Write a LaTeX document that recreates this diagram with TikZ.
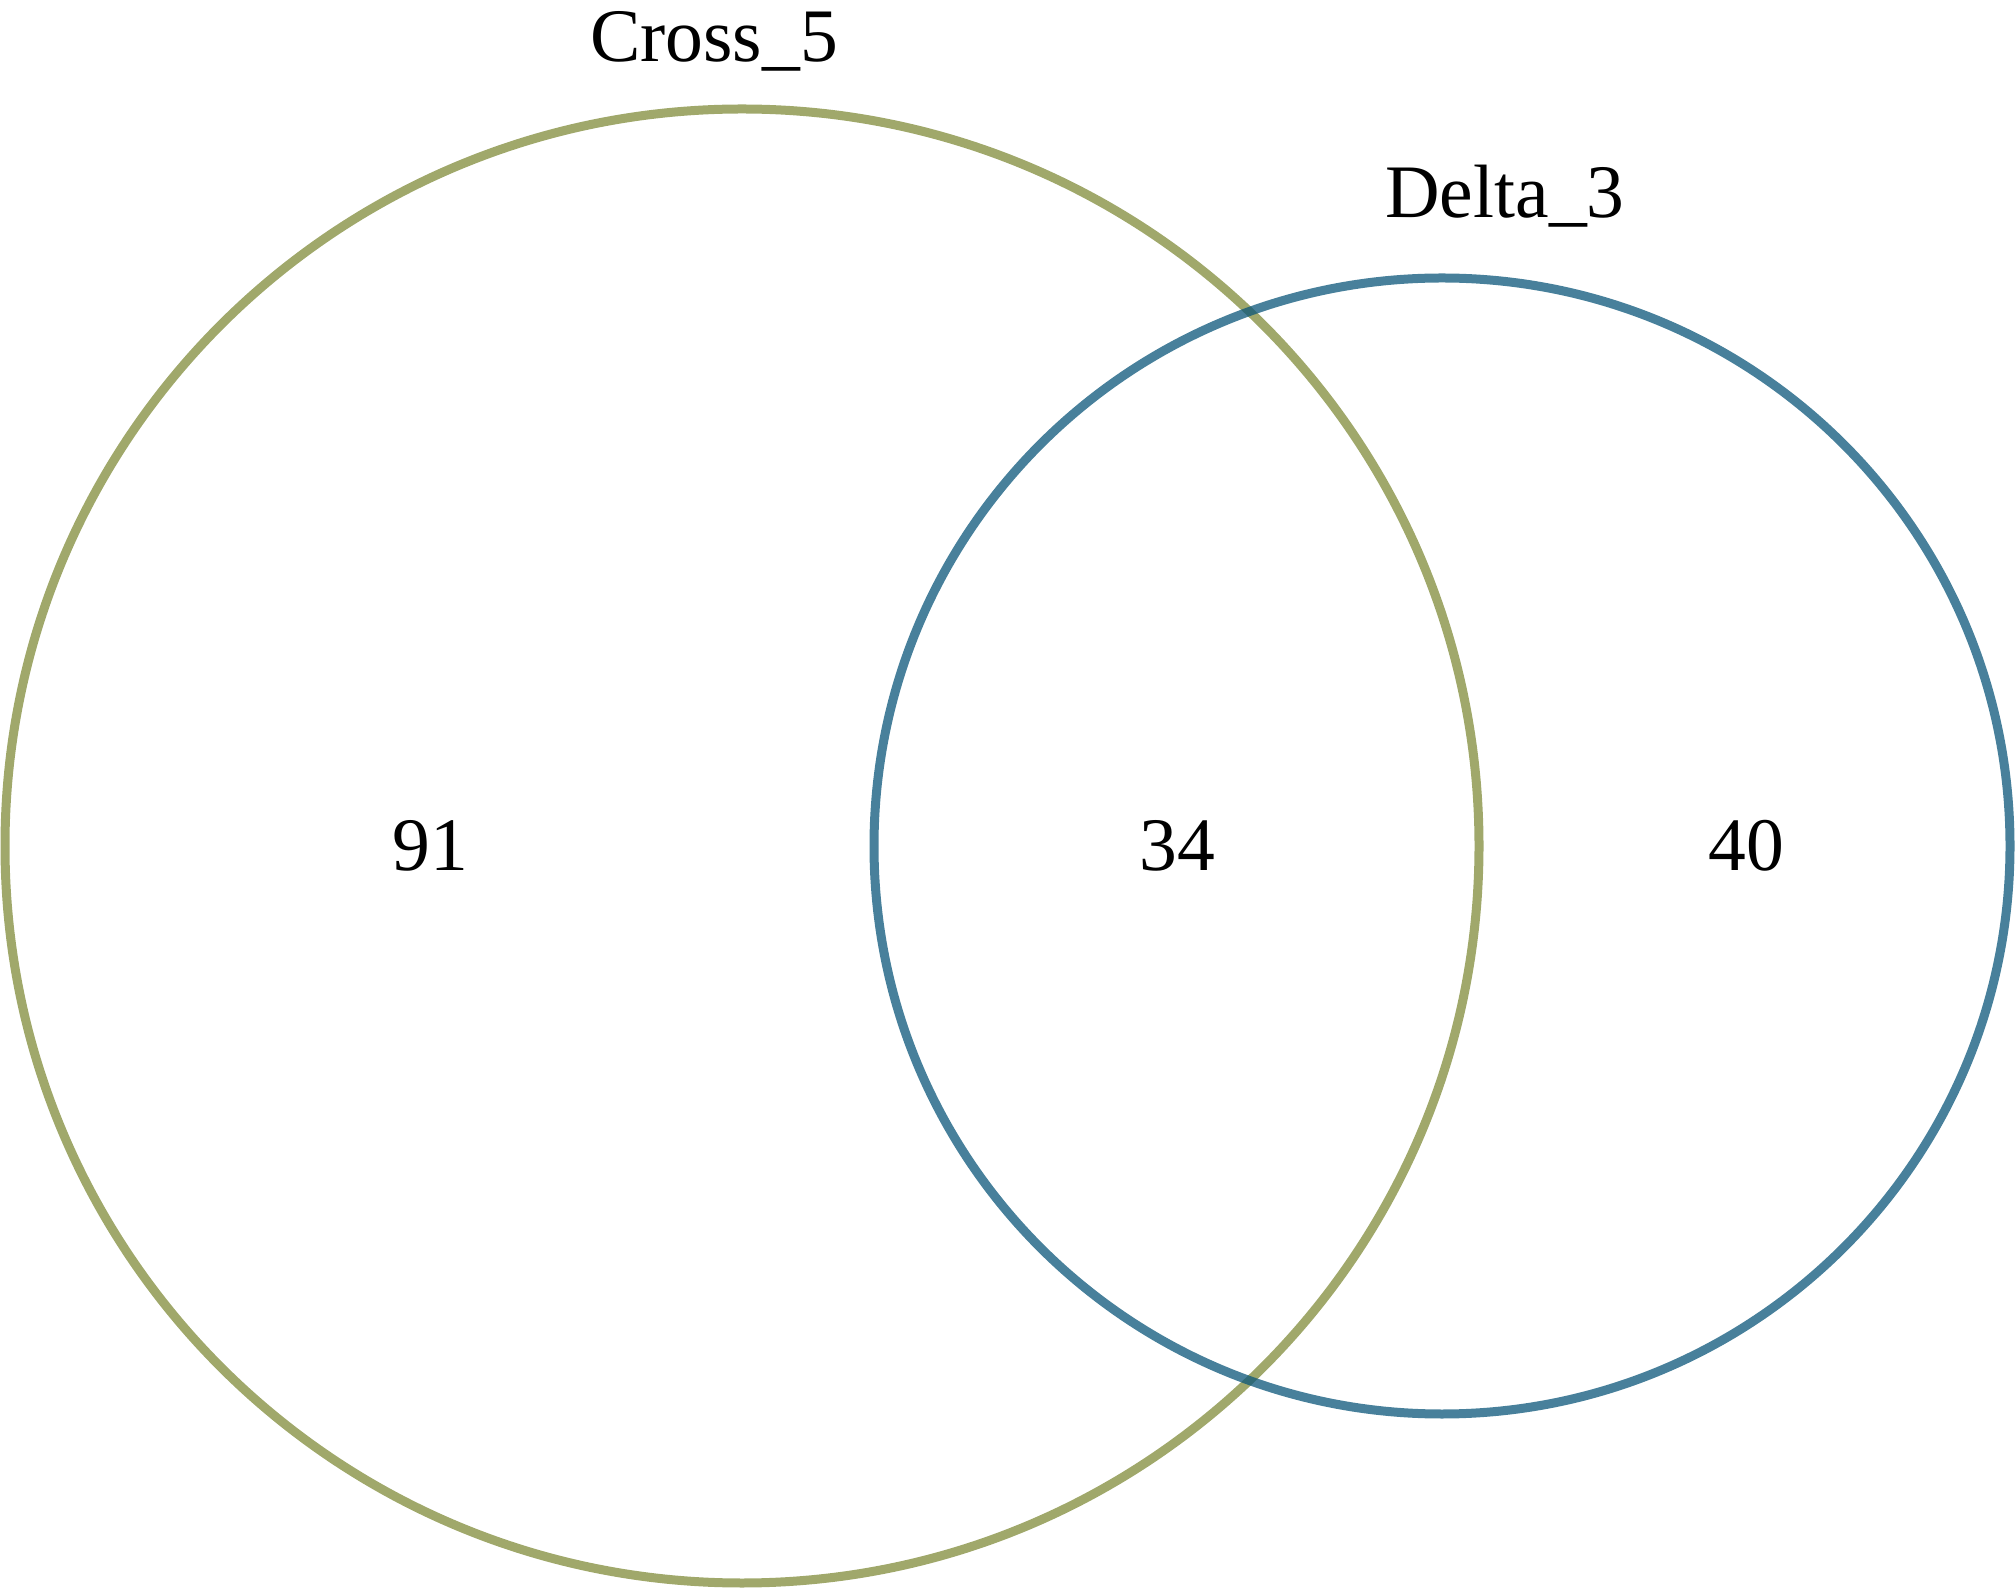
\documentclass[tikz,border=0pt]{standalone}
\usepackage{fontspec}
\setmainfont{Liberation Serif}
\usepackage{tikz}
\usetikzlibrary{calc}
\definecolor{crossolive}{RGB}{128,139,58}
\definecolor{deltablue}{RGB}{11,86,122}
\newcommand{\ringwidth}{0.09cm}
\newcommand{\ringopacity}{0.75}
\tikzset{
  setlabel/.style={anchor=base, inner sep=0pt, font=\fontsize{21.5}{24}\selectfont},
  countlabel/.style={anchor=base, inner sep=0pt, font=\fontsize{21.5}{24}\selectfont}
}

\begin{document}
\begin{tikzpicture}
\useasboundingbox (0,0) rectangle (20.15,15.90);
\coordinate (cross) at (7.42, 7.44);
\coordinate (delta) at (14.42, 7.44);
%rings
\draw[crossolive, line width=\ringwidth, draw opacity=\ringopacity] (cross) circle (7.37);
\draw[deltablue, line width=\ringwidth, draw opacity=\ringopacity] (delta) circle (5.68);
%set names
\node[setlabel] (crossname) at (7.14, 15.28) {Cross\_5};
\node[setlabel] (deltaname) at (15.05, 13.72) {Delta\_3};
%counts
\node[countlabel] (onlycross) at (4.30, 7.19) {91};
\node[countlabel] (both) at (11.77, 7.19) {34};
\node[countlabel] (onlydelta) at (17.46, 7.19) {40};
\end{tikzpicture}
\end{document}
